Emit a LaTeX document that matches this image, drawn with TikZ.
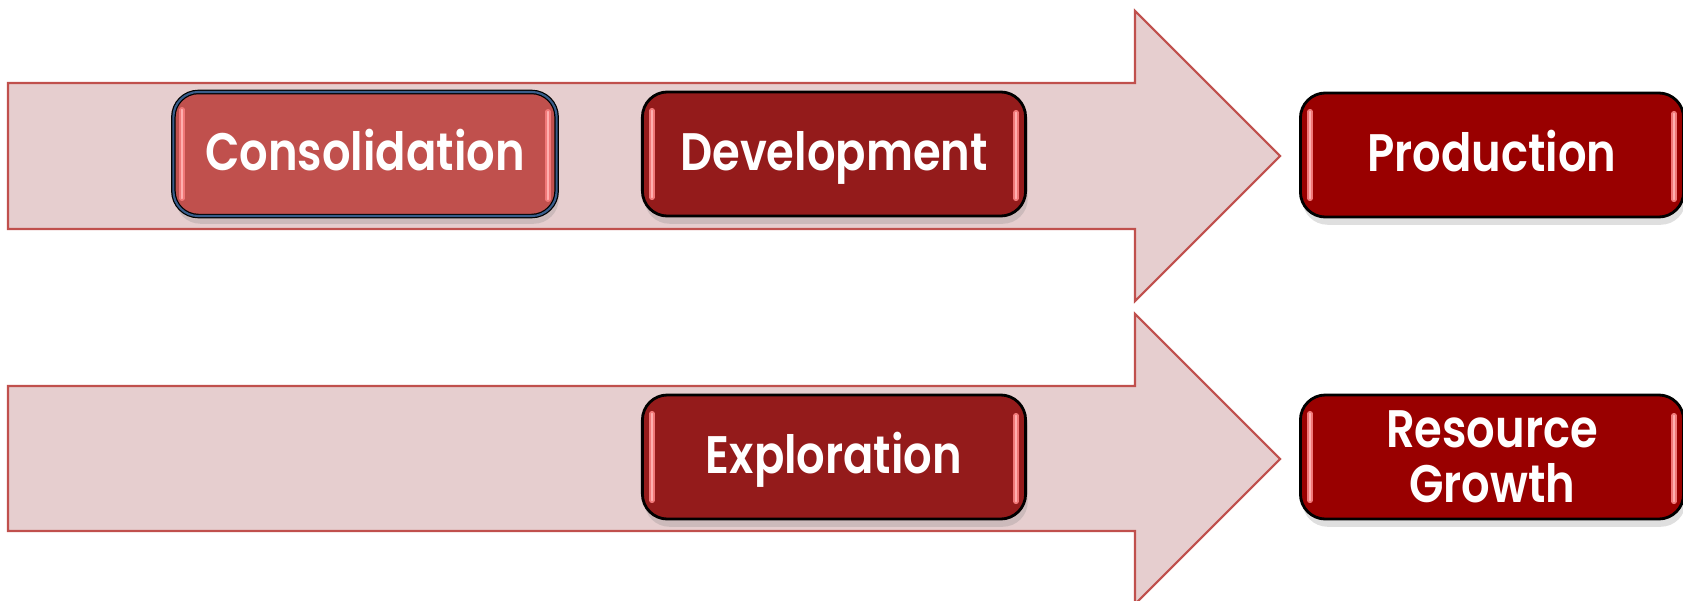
\documentclass[tikz,border=0pt]{standalone}
\usepackage{fontspec}
\newfontfamily\boxfont{Poppins}[UprightFont=* SemiBold, FakeStretch=0.85]
\usepackage{tikz}
\usetikzlibrary{shadows}

\definecolor{arrowfill}{RGB}{230,206,207}
\definecolor{arrowline}{RGB}{192,80,77}
\definecolor{consfill}{RGB}{192,80,77}
\definecolor{consline}{RGB}{56,93,138}
\definecolor{devfill}{RGB}{148,27,27}
\definecolor{prodfill}{RGB}{153,0,0}
\definecolor{stripe}{RGB}{240,120,120}
\definecolor{stripehi}{RGB}{255,175,175}

\tikzset{
    flow/.style={fill=arrowfill,draw=arrowline,line width=0.6pt},
    glossbox/.style={rectangle,rounded corners=0.25cm,draw=black,line width=0.8pt,
        minimum width=3.83cm,minimum height=1.24cm,inner sep=2pt,text=white,align=center,
        text height=10.5pt,text depth=1.4pt,
        font=\boxfont\fontsize{15}{15.6}\selectfont,
        drop shadow={opacity=0.25,shadow xshift=0.6pt,shadow yshift=-2.2pt}},
    stripeline/.style={draw=stripe,line width=1.5pt,line cap=round,
        postaction={draw=stripehi,line width=0.5pt}}
}

\begin{document}
\begin{tikzpicture}[x=0.01cm,y=-0.01cm]
    \clip (0,0) rectangle (1683,600);
    % two big arrows
    \draw[flow] (8,83) -- (1135,83) -- (1135,11) -- (1280,156) -- (1135,301) -- (1135,229) -- (8,229) -- cycle;
    \draw[flow] (8,386) -- (1135,386) -- (1135,314) -- (1280,459) -- (1135,604) -- (1135,531) -- (8,531) -- cycle;
    % stages
    \node[glossbox,fill=consfill,line width=1.3pt,postaction={draw=consline,line width=0.6pt}] (cons) at (365,154) {Consolidation};
    \node[glossbox,fill=devfill] (dev) at (834,154) {Development};
    \node[glossbox,fill=prodfill] (prod) at (1492,155) {Production};
    \node[glossbox,fill=devfill] (expl) at (834,457) {Exploration};
    \node[glossbox,fill=prodfill,text height=,text depth=] (grow) at (1492,457) {Resource\\Growth};
    % glossy edge highlights
    \foreach \n in {cons,dev,prod,expl,grow} {
        \draw[stripeline] ([xshift=0.11cm,yshift=-0.2cm]\n.north west) -- ([xshift=0.11cm,yshift=0.2cm]\n.south west);
        \draw[stripeline] ([xshift=-0.11cm,yshift=-0.22cm]\n.north east) -- ([xshift=-0.11cm,yshift=0.19cm]\n.south east);
    }
\end{tikzpicture}
\end{document}
